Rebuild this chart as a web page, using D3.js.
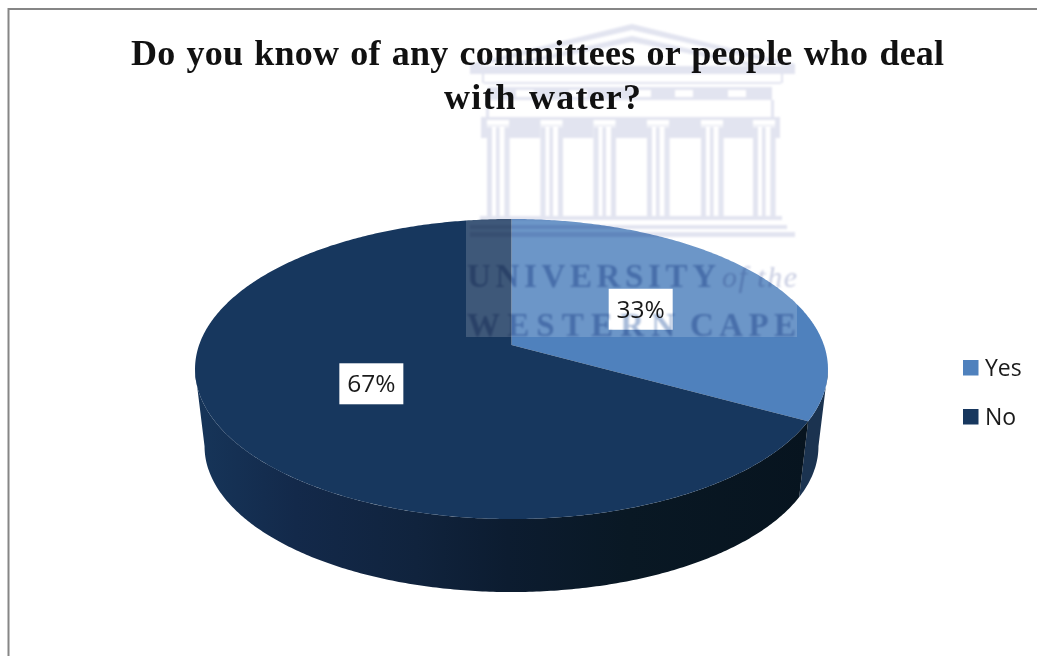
<!DOCTYPE html>
<html>
<head>
<meta charset="utf-8">
<script src="https://cdn.jsdelivr.net/npm/d3@7/dist/d3.min.js"></script>
<style>
  html, body { margin: 0; padding: 0; background: #fff; overflow: hidden; }
  svg { display: block; }
  .title { font-family: "Liberation Serif", serif; font-weight: 700; font-size: 36px; fill: #111; }
  .label, .legend { font-family: "Open Sans", sans-serif; fill: #1a1a1a; }
</style>
</head>
<body>
<svg id="chart" width="1037" height="656"></svg>
<script>
// Survey answers, in percent
const categories = ["Yes", "No"];
const shares = [33, 67];
const sliceColors = ["#4f81bd", "#17375e"];
const titleLines = ["Do you know of any committees or people who deal", "with water?"];

const svg = d3.select("#chart");
const defs = svg.append("defs");

// Chart frame, open past the right and bottom of the page
svg.append("rect").attr("x", 8.5).attr("y", 9).attr("width", 1050).attr("height", 670)
  .attr("fill", "#fff").attr("stroke", "#868686").attr("stroke-width", 2);

// Perspective projection of a disc tilted away from the viewer
const tilt = 0.16;
function projector(cx, cy, a, b) {
  return (angle, r = 1) => {
    const w = 1 + tilt * r * Math.cos(angle);
    return [cx + a * r * Math.sin(angle) / w, cy - b * r * Math.cos(angle) / w];
  };
}
const topFace = projector(511.5, 345, 312.4, 146.2);
const bottomFace = projector(511.5, 423, 303, 142);

const arcs = d3.pie().sort(null).value(d => d)(shares);
const line = d3.line();
const sweep = (a0, a1) => {
  const n = Math.ceil((a1 - a0) / 0.01);
  return d3.range(n + 1).map(i => a0 + (a1 - a0) * i / n);
};

// Only this stretch of the rim faces the viewer
const rimFrom = Math.acos(-tilt);
const rimTo = 2 * Math.PI - rimFrom;

// The rim darkens steadily from left to right
const rimShade = defs.append("linearGradient").attr("id", "rimShade")
  .attr("gradientUnits", "userSpaceOnUse")
  .attr("x1", 205).attr("x2", 810).attr("y1", 0).attr("y2", 0);
[[0, "#163458"], [0.15, "#13294a"], [0.35, "#10233d"], [0.5, "#0c1c30"], [0.7, "#091824"], [1, "#07141f"]]
  .forEach(([o, c]) => rimShade.append("stop").attr("offset", o).attr("stop-color", c));
const rimFills = ["#1b3350", "url(#rimShade)"];

svg.append("g").selectAll("path").data(arcs).join("path")
  .attr("d", d => {
    const angles = sweep(Math.max(d.startAngle, rimFrom), Math.min(d.endAngle, rimTo));
    return line([...angles.map(t => topFace(t)), ...angles.slice().reverse().map(t => bottomFace(t))]) + "Z";
  })
  .attr("fill", (d, i) => rimFills[i]);

svg.append("g").selectAll("path").data(arcs).join("path")
  .attr("d", d => line([topFace(0, 0), ...sweep(d.startAngle, d.endAngle).map(t => topFace(t))]) + "Z")
  .attr("fill", (d, i) => sliceColors[i]);

// Title
svg.append("g").selectAll("text").data(titleLines).join("text")
  .attr("class", "title")
  .attr("x", (d, i) => i ? 444 : 131)
  .attr("y", (d, i) => 65 + i * 44)
  .attr("word-spacing", 2)
  .attr("textLength", (d, i) => i ? 197 : 813)
  .attr("lengthAdjust", "spacing")
  .text(d => d);

// Pale wash of the watermark's panel over the pie
svg.append("rect").attr("x", 466).attr("y", 200).attr("width", 331).attr("height", 137)
  .attr("fill", "#fff").attr("opacity", 0.17);

// Percentage labels on white boxes, centred halfway along each slice
const labels = svg.append("g").selectAll("g").data(arcs).join("g")
  .attr("transform", d => `translate(${topFace((d.startAngle + d.endAngle) / 2, 0.5)})`);
labels.append("rect").attr("x", -32).attr("y", -20.5).attr("width", 64).attr("height", 41).attr("fill", "#fff");
labels.append("text").attr("class", "label").attr("text-anchor", "middle").attr("y", 8.5)
  .attr("font-size", 24.5).text((d, i) => shares[i] + "%");

// Legend
const legend = svg.append("g").selectAll("g").data(categories).join("g")
  .attr("transform", (d, i) => `translate(963,${360 + i * 49})`);
legend.append("rect").attr("width", 15.5).attr("height", 15.5).attr("fill", (d, i) => sliceColors[i]);
legend.append("text").attr("class", "legend").attr("x", 22).attr("y", 16)
  .attr("font-size", 23).text(d => d);

// Institutional watermark, a soft print multiplied over the whole chart
defs.append("filter").attr("id", "soft").attr("x", "-5%").attr("y", "-5%").attr("width", "110%").attr("height", "110%")
  .append("feGaussianBlur").attr("stdDeviation", 0.9);
const ink = svg.append("g").style("mix-blend-mode", "multiply").attr("filter", "url(#soft)");
const stone = "#e2e4f0";
const bar = (x, y, w, h, fill = stone) =>
  ink.append("rect").attr("x", x).attr("y", y).attr("width", w).attr("height", h).attr("fill", fill);

// Pediment
ink.append("path").attr("d", "M470 64L632 24L795 64L795 68L632 30L470 68Z").attr("fill", stone);
ink.append("path").attr("d", "M500 66L632 36L765 66L750 66L632 42L515 66Z").attr("fill", stone);
bar(470, 66, 325, 8);
bar(482, 74, 2, 9);
bar(781, 74, 2, 9);
bar(484, 82, 297, 2);

// Frieze with its windows
const windowStarts = [516, 569, 633, 675, 728];
ink.append("path").attr("fill", stone).attr("fill-rule", "evenodd")
  .attr("d", "M488 87H772V100H488Z" + windowStarts.map(x => `M${x} 90H${x + 18}V97H${x}Z`).join(""));
bar(486, 100, 3, 17);
bar(771, 100, 3, 17);

// Band under the architrave, with the columns and their capitals
const columnCentres = [498, 551.5, 604.5, 658, 712, 764];
bar(481, 117, 299, 21);
columnCentres.forEach(c => {
  bar(c - 11, 120, 22, 5, "#fff");
  bar(c - 11, 126, 22, 13, "#fff");
  bar(c - 11, 127, 5, 90);
  bar(c - 2, 127, 3.5, 90);
  bar(c + 6.5, 127, 5, 90);
});

// Steps
[[480, 216, 302, 4], [470, 225, 317, 4], [470, 232, 325, 5]].forEach(([x, y, w, h]) => bar(x, y, w, h));

// Wordmark
const word = (text, x, y, width, size, italic, fill) =>
  ink.append("text").attr("x", x).attr("y", y)
    .attr("textLength", width).attr("lengthAdjust", "spacing")
    .attr("font-family", "Liberation Serif, serif")
    .attr("font-weight", italic ? 400 : 700)
    .attr("font-style", italic ? "italic" : "normal")
    .attr("font-size", size).attr("fill", fill).text(text);
word("UNIVERSITY", 467, 287, 249, 33, false, "#a8bbd9");
word("of the", 722, 287, 75, 30, true, "#c9cee2");
word("WESTERN", 467, 336, 208, 33, false, "#a8bbd9");
word("CAPE", 690, 336, 106, 33, false, "#a8bbd9");
</script>
</body>
</html>
